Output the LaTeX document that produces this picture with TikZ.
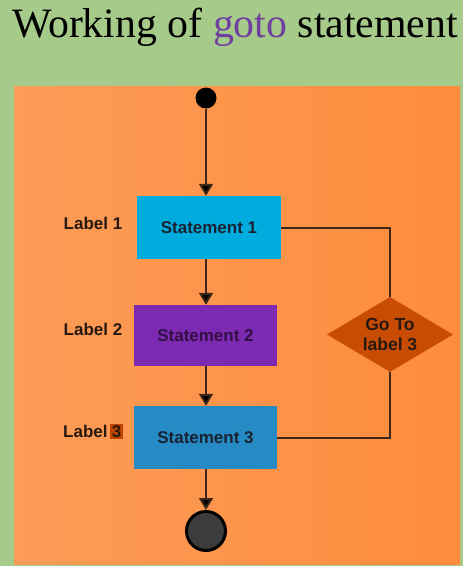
\documentclass[tikz,border=0pt]{standalone}
\usepackage{fontspec}
\setmainfont{Liberation Serif}
\newfontfamily\boxfont{Liberation Sans}
\usetikzlibrary{shapes.geometric,arrows.meta}
\definecolor{bggreen}{RGB}{166,202,138}
\definecolor{orleft}{RGB}{252,156,88}
\definecolor{orright}{RGB}{255,140,60}
\definecolor{gotopurple}{RGB}{112,64,160}
\definecolor{sone}{RGB}{0,171,221}
\definecolor{stwo}{RGB}{124,42,178}
\definecolor{sthree}{RGB}{38,139,196}
\definecolor{dia}{RGB}{200,76,4}
\definecolor{hl}{RGB}{190,68,0}
\definecolor{lin}{RGB}{60,40,25}
\definecolor{txtdark}{RGB}{25,35,50}
\definecolor{txtpurp}{RGB}{50,15,70}
\definecolor{lbl}{RGB}{40,25,15}
\definecolor{endfill}{RGB}{60,60,60}
\tikzset{
  stmt/.style={rectangle, inner sep=0pt, font=\boxfont\bfseries\fontsize{17}{20}\selectfont},
  lbltext/.style={inner sep=0pt, text=lbl, font=\boxfont\bfseries\fontsize{17}{20}\selectfont},
  conn/.style={draw=lin, line width=2pt},
  arr/.style={conn, -{Triangle[width=14pt,length=12pt,fill=black]}},
}
\begin{document}
\begin{tikzpicture}[x=1pt,y=-1pt]
\useasboundingbox (0,0) rectangle (463,566);
\fill[bggreen] (0,0) rectangle (463,566);
\shade[left color=orleft, right color=orright] (14,86) rectangle (460,564);
\node[anchor=base, inner sep=0pt, font=\fontsize{41.8}{48}\selectfont] (title) at (235,37) {Working of \textcolor{gotopurple}{goto} statement};

\node[circle, fill=black, inner sep=0pt, minimum size=21pt] (start) at (206,98) {};
\node[stmt, fill=sone, text=txtdark, minimum width=144pt, minimum height=63pt] (s1) at (209,227.5) {Statement 1};
\node[stmt, fill=stwo, text=txtpurp, minimum width=143pt, minimum height=61pt] (s2) at (205.5,335.5) {Statement 2};
\node[stmt, fill=sthree, text=txtdark, minimum width=143pt, minimum height=63pt] (s3) at (205.5,437.5) {Statement 3};
\node[circle, fill=endfill, draw=black, line width=3pt, inner sep=0pt, minimum size=39pt] (end) at (206,531) {};

\node[diamond, aspect=1.68, fill=dia, inner sep=0pt, minimum width=126pt, minimum height=75pt, align=center, text=lbl,
      font=\boxfont\bfseries\fontsize{17.5}{20}\selectfont] (go) at (390,334.5) {Go To\\label 3};

\node[lbltext] (l1) at (93,223) {Label 1};
\node[lbltext] (l2) at (93,329) {Label 2};
\node[lbltext, anchor=base west] (l3) at (63,437) {Label\,{\setlength\fboxsep{1.5pt}\colorbox{hl}{3}}};

\draw[arr] (start) -- (start |- s1.north);
\draw[arr] (s1.south -| start) -- (s2.north -| start);
\draw[arr] (s2.south -| start) -- (s3.north -| start);
\draw[arr] (s3.south -| start) -- (end.north);
\draw[conn] (s1.east) -| (go.north);
\draw[conn] (go.south) |- (s3.east);
\end{tikzpicture}
\end{document}
